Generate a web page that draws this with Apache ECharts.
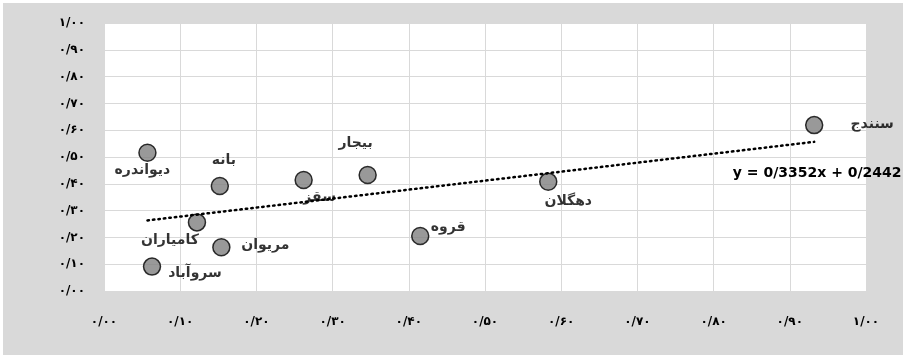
<!DOCTYPE html>
<html>
<head>
<meta charset="utf-8">
<script src="https://cdn.jsdelivr.net/npm/echarts@6/dist/echarts.min.js"></script>
<style>
html,body{margin:0;padding:0;background:#ffffff;}
#chart{position:absolute;left:3px;top:3px;width:900px;height:352px;background:#d9d9d9;}
</style>
</head>
<body>
<div id="chart"></div>
<script>
// ---- data ----
const cities = ['دیواندره','بانه','سقز','بیجار','کامیاران','مریوان','سروآباد','قروه','دهگلان','سنندج'];
const xValues = [0.057, 0.152, 0.262, 0.346, 0.122, 0.154, 0.063, 0.415, 0.583, 0.932];
const yValues = [0.516, 0.392, 0.414, 0.433, 0.256, 0.163, 0.091, 0.205, 0.408, 0.619];
const tickLabels = ['۰/۰۰','۰/۱۰','۰/۲۰','۰/۳۰','۰/۴۰','۰/۵۰','۰/۶۰','۰/۷۰','۰/۸۰','۰/۹۰','۱/۰۰'];
const trendSlope = 0.3352;
const trendIntercept = 0.2442;
const equationText = 'y = 0/3352x + 0/2442';

// ---- layout (label offsets, not data) ----
const labelOffsets = [[-5,18],[4,-26],[16,17],[-12,-32],[-27,18],[44,-2],[43,7],[28,-9],[20,20],[58,-1]];

const chart = echarts.init(document.getElementById('chart'));
const tickFmt = v => tickLabels[Math.round(v * 10)] || '';
const pts = cities.map((c, i) => ({
  name: c,
  value: [xValues[i], yValues[i]],
  label: { offset: labelOffsets[i] }
}));
const xMin = Math.min(...xValues), xMax = Math.max(...xValues);
const trend = [
  { value: [xMin, trendSlope * xMin + trendIntercept] },
  { value: [xMax, trendSlope * xMax + trendIntercept],
    label: { show: true, formatter: equationText, position: 'inside', offset: [3, 32],
      fontFamily: 'DejaVu Sans', fontWeight: 'bold', fontSize: 14, color: '#000' } }
];

chart.setOption({
  animation: false,
  grid: { left: 101, top: 20, width: 762, height: 268, show: true, backgroundColor: '#ffffff', borderWidth: 0 },
  xAxis: {
    type: 'value', min: 0, max: 1, interval: 0.1,
    axisLine: { show: false }, axisTick: { show: false },
    splitLine: { lineStyle: { color: '#d9d9d9', width: 1 } },
    axisLabel: { formatter: tickFmt, margin: 25, fontFamily: 'DejaVu Sans', fontWeight: 'bold', fontSize: 12, color: '#000' }
  },
  yAxis: {
    type: 'value', min: 0, max: 1, interval: 0.1,
    axisLine: { show: false }, axisTick: { show: false },
    splitLine: { lineStyle: { color: '#d9d9d9', width: 1 } },
    axisLabel: { formatter: tickFmt, margin: 19, fontFamily: 'DejaVu Sans', fontWeight: 'bold', fontSize: 12, color: '#000' }
  },
  series: [
    {
      type: 'scatter',
      data: pts,
      symbol: 'circle',
      symbolSize: 17,
      itemStyle: { color: '#808080', borderColor: '#000', borderWidth: 1.5 },
      label: { show: true, position: 'inside', formatter: p => p.name,
        fontFamily: 'DejaVu Sans', fontWeight: 'bold', fontSize: 14, color: '#000' },
      z: 2
    },
    {
      type: 'line',
      data: trend,
      showSymbol: true,
      symbol: 'circle',
      symbolSize: 0.01,
      itemStyle: { color: 'rgba(0,0,0,0)' },
      label: { show: false },
      lineStyle: { color: '#000', width: 2.5, type: [1.5, 4], cap: 'round' },
      z: 3,
      silent: true
    }
  ]
});
</script>
</body>
</html>
